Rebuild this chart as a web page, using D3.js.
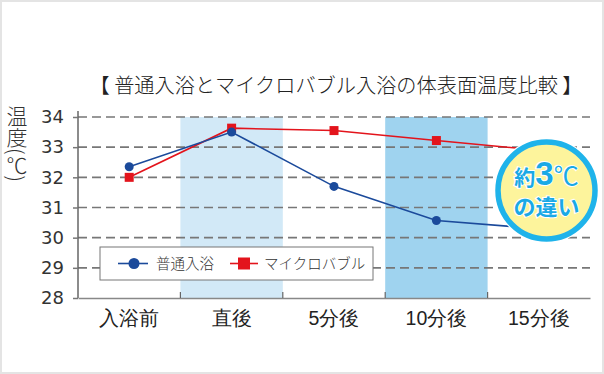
<!DOCTYPE html>
<html>
<head>
<meta charset="utf-8">
<script src="https://cdn.jsdelivr.net/npm/d3@7"></script>
<style>
  body { margin: 0; background: #fff; }
  svg { display: block; font-family: "Noto Sans CJK JP", "Noto Sans", sans-serif; }
</style>
</head>
<body>
<svg id="chart" width="604" height="374"></svg>
<script>
const categories = ["入浴前", "直後", "5分後", "10分後", "15分後"];
const normalBath = [32.35, 33.5, 31.7, 30.57, 30.3];
const microBubble = [32.0, 33.63, 33.55, 33.22, 32.9];
const yTicks = [28, 29, 30, 31, 32, 33, 34];
const seriesNames = ["普通入浴", "マイクロバブル"];
const shaded = [
  { cat: "直後", color: "#d2e9f7" },
  { cat: "10分後", color: "#9fd3ef" }
];

const width = 604, height = 374;
const margin = { top: 117, right: 14, bottom: 76, left: 78 };

const svg = d3.select("#chart");

// frame
svg.append("rect")
  .attr("x", 1).attr("y", 1)
  .attr("width", width - 2).attr("height", height - 2)
  .attr("fill", "#fff")
  .attr("stroke", "#e4e4e4")
  .attr("stroke-width", 2);

const x = d3.scaleBand()
  .domain(categories)
  .range([margin.left, width - margin.right]);

const y = d3.scaleLinear()
  .domain([28, 34])
  .range([height - margin.bottom, margin.top]);

// shaded bands
svg.selectAll("rect.band")
  .data(shaded)
  .join("rect")
  .attr("class", "band")
  .attr("x", d => x(d.cat))
  .attr("y", y(34))
  .attr("width", x.bandwidth())
  .attr("height", y(28) - y(34))
  .attr("fill", d => d.color);

// dashed gridlines
svg.append("g")
  .selectAll("line")
  .data(yTicks.filter(t => t > 28))
  .join("line")
  .attr("x1", margin.left)
  .attr("x2", width - margin.right)
  .attr("y1", d => y(d))
  .attr("y2", d => y(d))
  .attr("stroke", "#777")
  .attr("stroke-width", 1.6)
  .attr("stroke-dasharray", "9,5");

// y axis
const yAxis = svg.append("g")
  .attr("transform", `translate(${margin.left},0)`)
  .call(d3.axisLeft(y).tickValues(yTicks).tickSize(5).tickPadding(9).tickFormat(d3.format("d")));
yAxis.select(".domain").attr("stroke", "#666").attr("stroke-width", 1.5).attr("d", `M0,${y(34) - 6}V${y(28)}`);
yAxis.selectAll(".tick line").attr("stroke", "#777").attr("stroke-width", 1.5);
yAxis.selectAll(".tick text")
  .attr("fill", "#333")
  .style("font-size", "18px")
  .style("font-family", "'DejaVu Sans', sans-serif");

// x axis
const xAxis = svg.append("g")
  .attr("transform", `translate(0,${y(28)})`)
  .call(d3.axisBottom(x).tickSize(0).tickPadding(13));
xAxis.select(".domain").attr("stroke", "#888").attr("stroke-width", 1.5);
xAxis.selectAll(".tick text")
  .attr("fill", "#222")
  .style("font-size", "19.5px")
  .style("font-weight", "300");
// boundary ticks
svg.append("g")
  .selectAll("line")
  .data(categories.slice(1))
  .join("line")
  .attr("x1", d => x(d))
  .attr("x2", d => x(d))
  .attr("y1", y(28) - 6)
  .attr("y2", y(28))
  .attr("stroke", "#666")
  .attr("stroke-width", 1.2);

// lines
const cx = (d, i) => x(categories[i]) + x.bandwidth() / 2;
const line = d3.line().x(cx).y(d => y(d));

svg.append("path")
  .attr("d", line(microBubble))
  .attr("fill", "none")
  .attr("stroke", "#e3141c")
  .attr("stroke-width", 1.6);

svg.append("path")
  .attr("d", line(normalBath))
  .attr("fill", "none")
  .attr("stroke", "#1b4a9b")
  .attr("stroke-width", 1.6);

svg.selectAll("rect.sq")
  .data(microBubble)
  .join("rect")
  .attr("class", "sq")
  .attr("x", (d, i) => cx(d, i) - 4.5)
  .attr("y", d => y(d) - 4.5)
  .attr("width", 9).attr("height", 9)
  .attr("fill", "#e3141c");

svg.selectAll("circle.dot")
  .data(normalBath)
  .join("circle")
  .attr("class", "dot")
  .attr("cx", cx)
  .attr("cy", d => y(d))
  .attr("r", 4.5)
  .attr("fill", "#1b4a9b");

// legend
const lg = svg.append("g");
lg.append("rect")
  .attr("x", 100).attr("y", 247)
  .attr("width", 273).attr("height", 33)
  .attr("fill", "#fff")
  .attr("stroke", "#777")
  .attr("stroke-width", 1);
lg.append("line").attr("x1", 118).attr("x2", 148).attr("y1", 263.5).attr("y2", 263.5)
  .attr("stroke", "#1b4a9b").attr("stroke-width", 1.6);
lg.append("circle").attr("cx", 134).attr("cy", 263.5).attr("r", 5.5).attr("fill", "#1b4a9b");
lg.append("text").attr("x", 156).attr("y", 269).text(seriesNames[0])
  .attr("fill", "#333").style("font-size", "14.5px").style("font-weight", "300");
lg.append("line").attr("x1", 230).attr("x2", 258).attr("y1", 263.5).attr("y2", 263.5)
  .attr("stroke", "#e3141c").attr("stroke-width", 1.6);
lg.append("rect").attr("x", 238).attr("y", 257.5).attr("width", 12).attr("height", 12).attr("fill", "#e3141c");
lg.append("text").attr("x", 264).attr("y", 269).text(seriesNames[1])
  .attr("fill", "#333").style("font-size", "14.5px").style("font-weight", "300");

// title
svg.append("text")
  .attr("x", 336).attr("y", 93)
  .attr("text-anchor", "middle")
  .attr("fill", "#222")
  .style("font-size", "20.2px")
  .style("font-weight", "300")
  .text("【 普通入浴とマイクロバブル入浴の体表面温度比較 】");

// y axis label (vertical)
svg.append("text")
  .attr("x", 17).attr("y", 106)
  .attr("fill", "#333")
  .style("font-size", "21px")
  .style("font-weight", "300")
  .style("writing-mode", "vertical-rl")
  .text("温度(℃)");

// badge
const badge = svg.append("g").attr("transform", "translate(546.5,190.5)");
badge.append("circle").attr("r", 52.5).attr("fill", "#fff");
badge.append("circle").attr("r", 48.5).attr("fill", "#fdf49c")
  .attr("stroke", "#1fb3ea").attr("stroke-width", 5.5);
const bt = badge.append("g")
  .attr("fill", "#1aa9e6")
  .attr("stroke", "#fff")
  .attr("stroke-width", 2)
  .attr("paint-order", "stroke")
  .style("font-weight", "bold")
  .attr("text-anchor", "middle");
const t1 = bt.append("text").attr("y", -6);
t1.append("tspan").style("font-size", "21px").text("約");
t1.append("tspan").style("font-size", "33px").style("font-family", "'Liberation Sans', sans-serif").text("3");
t1.append("tspan").style("font-size", "25px").style("font-weight", "normal").text("℃");
bt.append("text").attr("y", 24).style("font-size", "22px").text("の違い");
</script>
</body>
</html>
